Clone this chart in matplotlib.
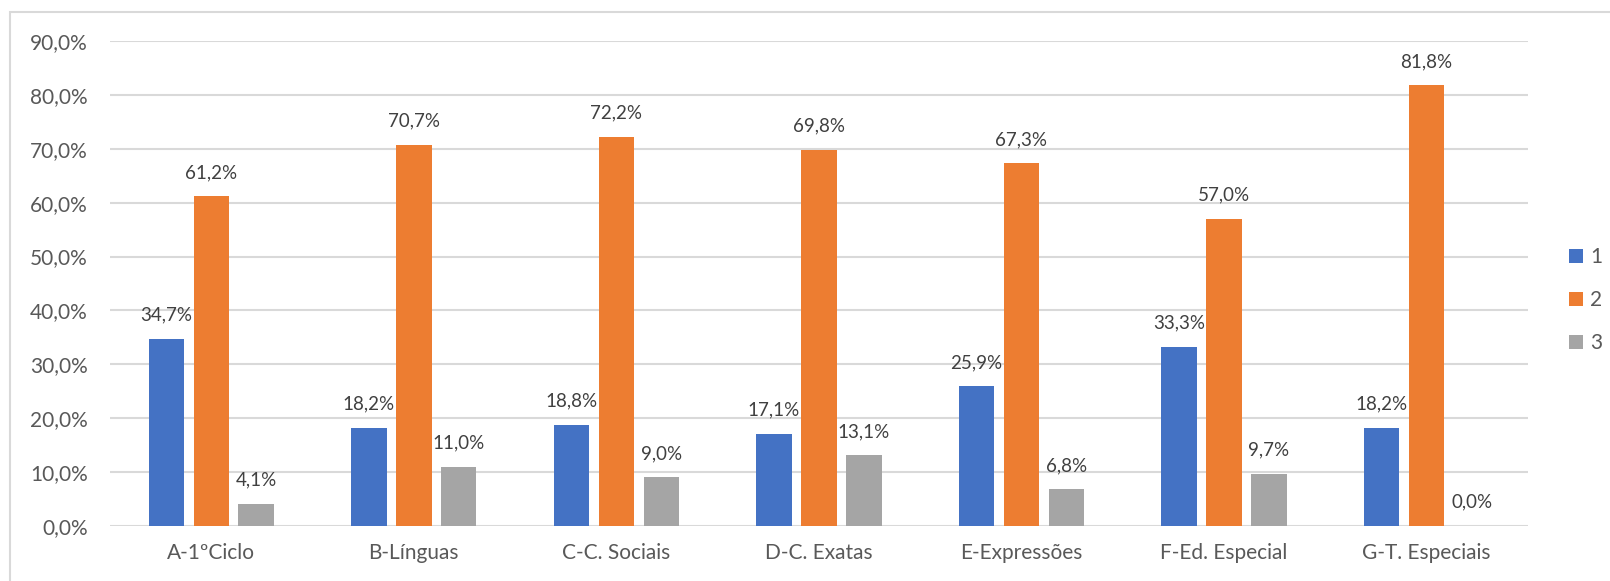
import matplotlib.pyplot as plt
import matplotlib.patches as patches
import numpy as np

plt.rcParams['font.family'] = ['Lato', 'DejaVu Sans']

categories = ['A-1ºCiclo', 'B-Línguas', 'C-C. Sociais', 'D-C. Exatas',
              'E-Expressões', 'F-Ed. Especial', 'G-T. Especiais']
series_names = ['1', '2', '3']
s1 = [34.7, 18.2, 18.8, 17.1, 25.9, 33.3, 18.2]
s2 = [61.2, 70.7, 72.2, 69.8, 67.3, 57.0, 81.8]
s3 = [4.1, 11.0, 9.0, 13.1, 6.8, 9.7, 0.0]
colors = ['#4472C4', '#ED7D31', '#A5A5A5']

txt = '#595959'
grid = '#D9D9D9'

fig = plt.figure(figsize=(16.1, 5.81), dpi=100)
ax = fig.add_axes([0.0683, 0.0947, 0.8807, 0.8347])

x = np.arange(len(categories))
width = 0.175
step = 0.222

for i, (vals, name, col) in enumerate(zip([s1, s2, s3], series_names, colors)):
    pos = x + (i - 1) * step
    bars = ax.bar(pos, vals, width, color=col, label=name, zorder=3)
    for b, v in zip(bars, vals):
        ax.annotate(f'{v:.1f}%'.replace('.', ','),
                    (b.get_x() + b.get_width() / 2, v),
                    xytext=(0, 11), textcoords='offset points',
                    ha='center', va='bottom', fontsize=13.5, color='#404040')

ax.set_xlim(-0.5, len(categories) - 0.5)
ax.set_ylim(0, 90)
ax.set_yticks(np.arange(0, 91, 10))
ax.set_yticklabels([f'{t:.1f}%'.replace('.', ',') for t in np.arange(0, 91, 10)])
ax.set_xticks(x)
ax.set_xticklabels(categories)
ax.tick_params(axis='both', length=0, labelsize=15, colors=txt)
ax.tick_params(axis='y', pad=16)
ax.tick_params(axis='x', pad=12)
ax.yaxis.grid(True, color=grid, linewidth=1.5, zorder=0)
ax.set_axisbelow(True)
for sp in ax.spines.values():
    sp.set_visible(False)

leg = fig.legend(loc='center left', bbox_to_anchor=(0.9745, 0.4836), frameon=False,
                 handlelength=0.67, handleheight=0.67, handletextpad=0.35,
                 labelspacing=1.1, fontsize=15, borderaxespad=0, borderpad=0)
for t in leg.get_texts():
    t.set_color(txt)

# chart frame
fig.patches.append(patches.Rectangle((10 / 1610, -0.1), 1.2, 0.1 + 1 - 12 / 581,
                                      transform=fig.transFigure, fill=False,
                                      edgecolor=grid, linewidth=1.5))

fig.savefig('out.png', dpi=100)
